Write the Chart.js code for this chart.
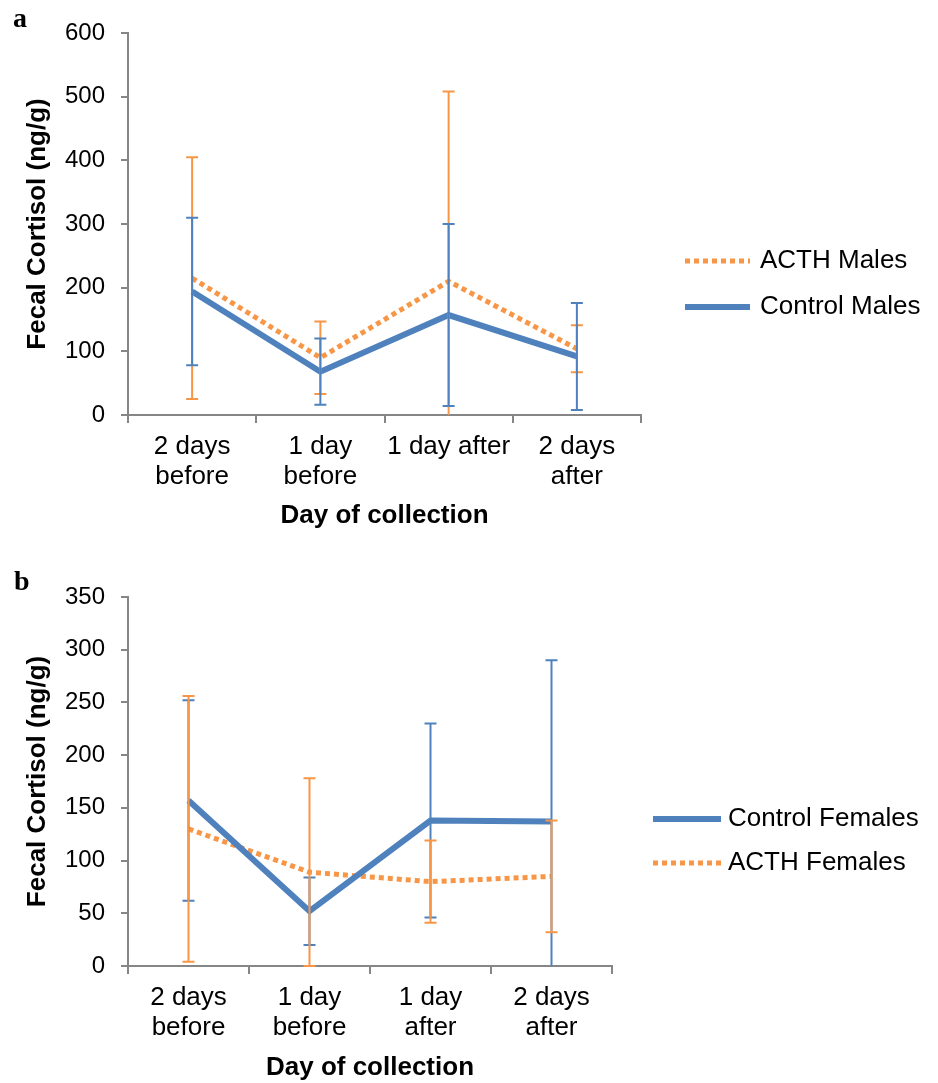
<!DOCTYPE html>
<html>
<head>
<meta charset="utf-8">
<script src="https://cdn.jsdelivr.net/npm/chart.js@4.4.1/dist/chart.umd.min.js"></script>
<style>
html, body { margin: 0; padding: 0; background: #fff; overflow: hidden; }
#wrapA { position: absolute; left: 0; top: 0; width: 938px; height: 560px; }
#wrapB { position: absolute; left: 0; top: 560px; width: 938px; height: 540px; }
.tag { position: absolute; font-family: "Liberation Serif", "Times New Roman", serif; font-weight: bold; font-size: 28px; line-height: 1; color: #000; }
</style>
</head>
<body>
<div id="wrapA"><canvas id="chartA"></canvas></div>
<div id="wrapB"><canvas id="chartB"></canvas></div>
<div class="tag" style="left:13px; top:4px;">a</div>
<div class="tag" style="left:14px; top:567px;">b</div>
<script>
//categories (x axis)
const daysA = [['2 days', 'before'], ['1 day', 'before'], '1 day after', ['2 days', 'after']];
const daysB = [['2 days', 'before'], ['1 day', 'before'], ['1 day', 'after'], ['2 days', 'after']];

//panel a - males, mean and error (ng/g)
const acthMales = [215, 90, 210, 104];
const acthMalesErr = [190, 57, 298, 37];
const controlMales = [194, 68, 157, 92];
const controlMalesErr = [116, 52, 143, 84];
const yTicksA = [0, 100, 200, 300, 400, 500, 600];

//panel b - females
const controlFemales = [157, 52, 138, 137];
const controlFemalesErr = [95, 32, 92, 153];
const acthFemales = [130, 89, 80, 85];
const acthFemalesErr = [126, 89, 39, 53];
const yTicksB = [0, 50, 100, 150, 200, 250, 300, 350];

const BLUE = '#4F81BD';
const ORANGE = '#F79646';
const AXIS = '#868686';
const FONT = '"Liberation Sans", Arial, sans-serif';
Chart.defaults.font.family = FONT;
Chart.defaults.color = '#000';

//error bars drawn from each dataset's "errors" array, clipped to the y range
const errorBars = {
  id: 'errorBars',
  afterDatasetsDraw(chart) {
    const ctx = chart.ctx;
    const y = chart.scales.y;
    chart.data.datasets.forEach((ds, i) => {
      const meta = chart.getDatasetMeta(i);
      ctx.save();
      ctx.strokeStyle = ds.borderColor;
      ctx.lineWidth = 2;
      meta.data.forEach((pt, j) => {
        const hi = ds.data[j] + ds.errors[j];
        const lo = ds.data[j] - ds.errors[j];
        const yTop = y.getPixelForValue(Math.min(hi, y.max));
        const yBot = y.getPixelForValue(Math.max(lo, y.min));
        ctx.beginPath();
        ctx.moveTo(pt.x, yTop);
        ctx.lineTo(pt.x, yBot);
        if (hi <= y.max) { ctx.moveTo(pt.x - 6, yTop); ctx.lineTo(pt.x + 6, yTop); }
        if (lo >= y.min) { ctx.moveTo(pt.x - 6, yBot); ctx.lineTo(pt.x + 6, yBot); }
        ctx.stroke();
      });
      ctx.restore();
    });
  }
};

//legend on the right, Excel style (line sample + name)
const sideLegend = {
  id: 'sideLegend',
  afterDraw(chart, args, opts) {
    const ctx = chart.ctx;
    const x0 = chart.chartArea.right + opts.offset;
    chart.data.datasets.forEach((ds, i) => {
      const yy = opts.top + i * opts.gap;
      ctx.save();
      ctx.strokeStyle = ds.borderColor;
      ctx.lineWidth = ds.borderWidth;
      ctx.setLineDash(ds.borderDash || []);
      ctx.beginPath();
      ctx.moveTo(x0, yy);
      ctx.lineTo(x0 + opts.length, yy);
      ctx.stroke();
      ctx.setLineDash([]);
      ctx.fillStyle = '#000';
      ctx.font = '26px ' + FONT;
      ctx.textBaseline = 'middle';
      ctx.fillText(ds.label, x0 + opts.length + opts.textGap, yy);
      ctx.restore();
    });
  }
};

function series(label, data, errors, color, dashed) {
  return {
    label: label,
    data: data,
    errors: errors,
    borderColor: color,
    backgroundColor: color,
    borderWidth: dashed ? 5 : 6,
    borderDash: dashed ? [5, 4] : [],
    pointRadius: 0,
    tension: 0,
    fill: false
  };
}

function makeChart(id, labels, datasets, yTicks, box) {
  return new Chart(document.getElementById(id), {
    type: 'line',
    data: { labels: labels, datasets: datasets },
    options: {
      responsive: true,
      maintainAspectRatio: false,
      animation: false,
      layout: { padding: { left: 18, top: box.top, right: box.right, bottom: box.bottom } },
      plugins: {
        legend: { display: false },
        tooltip: { enabled: false },
        sideLegend: box.legend
      },
      scales: {
        x: {
          offset: true,
          grid: { offset: true, drawOnChartArea: false, color: AXIS, lineWidth: 2, tickLength: 8 },
          border: { color: AXIS, width: 2 },
          ticks: { font: { size: 26, lineHeight: 1.15 }, padding: 9, maxRotation: 0, autoSkip: false },
          title: { display: true, text: 'Day of collection', font: { size: 26, weight: 'bold' }, padding: { top: 0, bottom: 4 } },
          afterFit(s) { s.height = box.xh; }
        },
        y: {
          min: yTicks[0],
          max: yTicks[yTicks.length - 1],
          afterBuildTicks(s) { s.ticks = yTicks.map(v => ({ value: v })); },
          grid: { drawOnChartArea: false, color: AXIS, lineWidth: 2, tickLength: 7 },
          border: { color: AXIS, width: 2 },
          ticks: { font: { size: 24 }, padding: 16 },
          title: { display: true, text: 'Fecal Cortisol (ng/g)', font: { size: 26, weight: 'bold' }, padding: { top: 4, bottom: 4 } },
          afterFit(s) { s.width = 110; }
        }
      }
    },
    plugins: [errorBars, sideLegend]
  });
}

const chartA = makeChart('chartA', daysA, [
  series('ACTH Males', acthMales, acthMalesErr, ORANGE, true),
  series('Control Males', controlMales, controlMalesErr, BLUE, false)
], yTicksA, { top: 33, right: 297, bottom: 25, xh: 120,
  legend: { offset: 44, length: 65, textGap: 10, top: 261, gap: 46 } });

const chartB = makeChart('chartB', daysB, [
  series('Control Females', controlFemales, controlFemalesErr, BLUE, false),
  series('ACTH Females', acthFemales, acthFemalesErr, ORANGE, true)
], yTicksB, { top: 37, right: 326, bottom: 13, xh: 121,
  legend: { offset: 41, length: 68, textGap: 7, top: 259, gap: 44 } });
</script>
</body>
</html>
